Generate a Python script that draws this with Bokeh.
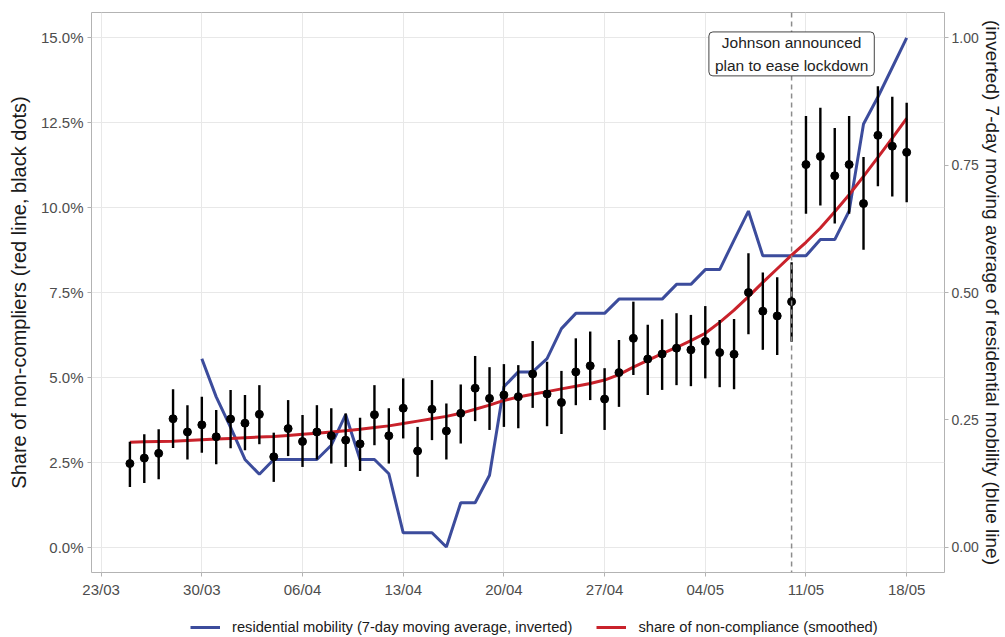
import pandas as pd
from bokeh.plotting import figure
from bokeh.layouts import column
from bokeh.models import (Range1d, LinearAxis, FixedTicker, PrintfTickFormatter,
                          DatetimeTickFormatter, Span, Label, Legend, LegendItem)
from bokeh.embed import file_html
from bokeh.resources import INLINE

# ---------------- data ----------------
obs_start = "2020-03-25"
obs_end = "2020-05-18"
share = [2.46, 2.62, 2.76, 3.78, 3.39, 3.60, 3.25, 3.77, 3.65, 3.91,
         2.66, 3.49, 3.11, 3.39, 3.28, 3.15, 3.04, 3.90, 3.28, 4.09,
         2.83, 4.06, 3.42, 3.94, 4.68, 4.38, 4.48, 4.43, 5.10, 4.51,
         4.26, 5.16, 5.34, 4.36, 5.14, 6.15, 5.54, 5.69, 5.86, 5.81,
         6.06, 5.73, 5.68, 7.50, 6.95, 6.81, 7.23, 11.27, 11.51, 10.94,
         11.27, 10.12, 12.13, 11.81, 11.63]
share_hi = [3.10, 3.32, 3.47, 4.65, 4.18, 4.43, 4.04, 4.63, 4.48, 4.77,
            3.37, 4.33, 3.89, 4.18, 4.09, 3.94, 3.81, 4.77, 4.09, 4.97,
            3.54, 4.92, 4.23, 4.79, 5.63, 5.30, 5.39, 5.36, 6.07, 5.46,
            5.19, 6.15, 6.35, 5.27, 6.10, 7.23, 6.55, 6.71, 6.89, 6.84,
            7.10, 6.69, 6.72, 8.66, 8.09, 7.95, 8.39, 12.70, 12.94, 12.35,
            12.70, 11.49, 13.58, 13.27, 13.09]
share_lo = [1.77, 1.89, 2.00, 2.92, 2.58, 2.78, 2.44, 2.91, 2.85, 3.03,
            1.92, 2.68, 2.36, 2.58, 2.46, 2.36, 2.24, 3.00, 2.46, 3.20,
            2.07, 3.15, 2.58, 3.05, 3.71, 3.45, 3.54, 3.50, 4.10, 3.56,
            3.33, 4.18, 4.33, 3.45, 4.13, 5.07, 4.48, 4.63, 4.77, 4.74,
            4.97, 4.71, 4.65, 6.27, 5.81, 5.66, 6.05, 9.82, 10.06, 9.53,
            9.82, 8.76, 10.63, 10.33, 10.16]
smooth = [3.09, 3.10, 3.11, 3.12, 3.14, 3.16, 3.18, 3.20, 3.22, 3.24,
          3.26, 3.29, 3.32, 3.35, 3.39, 3.43, 3.47, 3.52, 3.57, 3.64,
          3.71, 3.78, 3.85, 3.94, 4.06, 4.18, 4.32, 4.42, 4.50, 4.58,
          4.66, 4.74, 4.82, 4.92, 5.08, 5.30, 5.50, 5.70, 5.88, 6.08,
          6.30, 6.62, 6.98, 7.38, 7.80, 8.20, 8.60, 8.98, 9.40, 9.88,
          10.38, 10.92, 11.48, 12.05, 12.63]
mob_start = "2020-03-30"
mobility = [0.370, 0.295, 0.235, 0.172, 0.143, 0.172, 0.172, 0.172, 0.172, 0.200,
            0.260, 0.172, 0.172, 0.144, 0.028, 0.028, 0.028, 0.000, 0.087, 0.087,
            0.141, 0.315, 0.344, 0.344, 0.370, 0.429, 0.459, 0.459, 0.459, 0.487,
            0.487, 0.487, 0.487, 0.516, 0.516, 0.545, 0.545, 0.603, 0.660, 0.572,
            0.572, 0.572, 0.572, 0.604, 0.604, 0.660, 0.831, 0.884, 0.942, 1.000]
x_tick_dates = ["2020-03-23", "2020-03-30", "2020-04-06", "2020-04-13", "2020-04-20",
                "2020-04-27", "2020-05-04", "2020-05-11", "2020-05-18"]
y_ticks_left = [0, 2.5, 5, 7.5, 10, 12.5, 15]
y_ticks_right = [0, 0.25, 0.5, 0.75, 1.0]
event_date = "2020-05-10"
event_text = "Johnson announced\nplan to ease lockdown"
left_title = "Share of non-compliers (red line, black dots)"
right_title = "(inverted) 7-day moving average of residential mobility (blue line)"
legend_blue = "residential mobility (7-day moving average, inverted)"
legend_red = "share of non-compliance (smoothed)"

# ---------------- helpers ----------------
DAY = 86400000.0


def ms(s):
    return pd.Timestamp(s).value / 1e6


obs_dates = pd.date_range(obs_start, obs_end, freq="D")
mob_dates = pd.date_range(mob_start, obs_end, freq="D")
xt = [ms(d) for d in x_tick_dates]

FONT = "Liberation Sans"
BLUE = "#3C4C9C"
RED = "#C9222B"

xr = Range1d(xt[0] - 0.67 * DAY, xt[0] + 58.63 * DAY)

p = figure(width=1005, height=605, x_axis_type="datetime",
           x_range=xr, y_range=Range1d(-0.75, 15.75),
           output_backend="svg", toolbar_location=None,
           min_border_left=91, min_border_right=58,
           min_border_top=12, min_border_bottom=33)

p.extra_y_ranges = {"mob": Range1d(-0.05, 1.05)}
raxis = LinearAxis(y_range_name="mob", ticker=FixedTicker(ticks=y_ticks_right),
                   formatter=PrintfTickFormatter(format="%.2f"))
p.add_layout(raxis, "right")

xtick = FixedTicker(ticks=xt)
p.xaxis.ticker = xtick
p.xgrid.ticker = xtick
p.xaxis.formatter = DatetimeTickFormatter(days="%d/%m", months="%d/%m", hours="%d/%m",
                                          years="%d/%m", milliseconds="%d/%m",
                                          seconds="%d/%m", minutes="%d/%m")
ytick = FixedTicker(ticks=y_ticks_left)
p.yaxis[0].ticker = ytick
p.ygrid.ticker = ytick
p.yaxis[0].formatter = PrintfTickFormatter(format="%.1f%%")

for ax in p.axis:
    ax.axis_line_color = None
    ax.major_tick_line_color = "#B3B3B3"
    ax.major_tick_out = 4
    ax.major_tick_in = 0
    ax.minor_tick_line_color = None
    ax.major_label_text_font = FONT
    ax.major_label_text_font_size = "15px"
    ax.major_label_text_color = "#4D4D4D"
    ax.major_label_standoff = 4
    ax.axis_label_text_font = FONT
    ax.axis_label_text_font_style = "normal"
    ax.axis_label_text_color = "#1A1A1A"

p.yaxis[0].axis_label = left_title
p.yaxis[0].axis_label_text_font_size = "20px"
p.yaxis[0].axis_label_standoff = 8

raxis.major_label_text_font_size = "14px"
raxis.major_label_standoff = 3
raxis.axis_label = right_title
raxis.axis_label_text_font_size = "19px"
raxis.axis_label_standoff = 0

p.grid.grid_line_color = "#E8E8E8"
p.grid.grid_line_width = 1
p.outline_line_color = "#B3B3B3"
p.outline_line_width = 1

# ---------------- glyphs ----------------
p.line(mob_dates, mobility, y_range_name="mob", line_color=BLUE, line_width=3)
p.line(obs_dates, smooth, line_color=RED, line_width=3)
p.segment(x0=obs_dates, y0=share_lo, x1=obs_dates, y1=share_hi,
          line_color="black", line_width=2.4)
p.scatter(obs_dates, share, size=8, color="black")

p.add_layout(Span(location=ms(event_date), dimension="height", line_color="#8C8C8C",
                  line_dash="5 4", line_width=1.5))
p.add_layout(Label(x=ms(event_date), y=14.53, text=event_text, text_align="center",
                   text_baseline="middle", text_font=FONT, text_font_size="15.5px",
                   text_color="#222222", text_line_height=1.35,
                   background_fill_color="white", border_line_color="#444444",
                   border_line_width=1, border_radius=4,
                   padding=dict(left=6, right=6, top=2, bottom=2)))

# ---------------- legend strip below the chart ----------------
# same series, drawn in a strip whose y-range excludes them: only the legend shows
lf = figure(width=1005, height=32, output_backend="svg", toolbar_location=None,
            x_axis_type="datetime", x_axis_location=None, y_axis_location=None,
            x_range=xr, y_range=Range1d(100, 101),
            min_border_left=91, min_border_right=58, min_border_top=0, min_border_bottom=0)
lf.grid.visible = False
lf.outline_line_color = None
kb = lf.line(mob_dates, mobility, line_color=BLUE, line_width=3)
kr = lf.line(obs_dates, smooth, line_color=RED, line_width=3)
legend = Legend(items=[LegendItem(label=legend_blue, renderers=[kb]),
                       LegendItem(label=legend_red, renderers=[kr])],
                orientation="horizontal", location=(99, 0),
                border_line_color=None, background_fill_alpha=0,
                padding=0, margin=0, spacing=24, glyph_width=30, glyph_height=20,
                label_height=20, label_standoff=12,
                label_text_font=FONT, label_text_font_size="14.7px",
                label_text_color="#1A1A1A")
lf.add_layout(legend)

layout = column(p, lf, spacing=0)
open("out.html", "w").write(file_html(layout, INLINE))
